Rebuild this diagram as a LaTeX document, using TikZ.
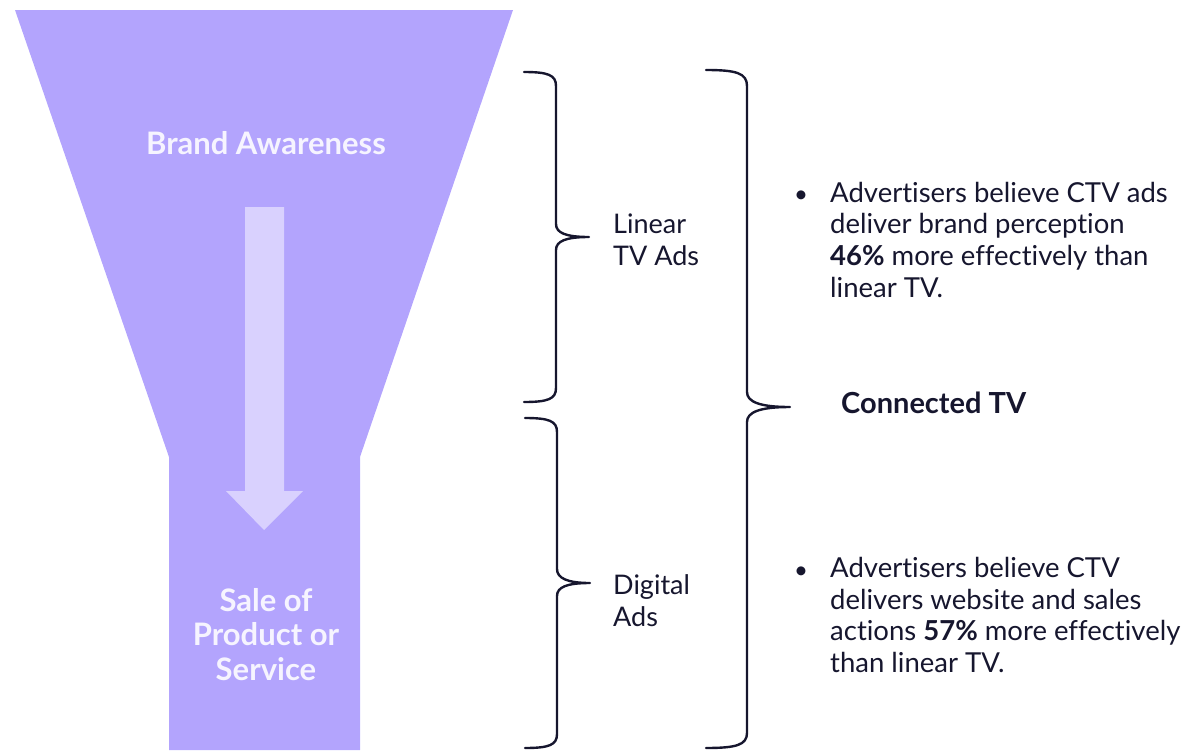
\documentclass[tikz,border=0pt]{standalone}
\usepackage{fontspec}
\setmainfont{Lato}[Ligatures=NoCommon]
\definecolor{funnel}{HTML}{B3A4FD}
\definecolor{arrowc}{HTML}{D9D1FE}
\definecolor{ink}{HTML}{16162E}
\definecolor{wtext}{HTML}{F6F4FF}
\begin{document}
\begin{tikzpicture}[x=1pt,y=-1pt,
  brace/.style={draw=ink,line width=2.4pt,line cap=round,line join=round},
  ftext/.style={text=wtext,font=\fontsize{31}{34.5}\selectfont\bfseries,align=center,inner sep=0},
  lbl/.style={text=ink,font=\fontsize{27}{32}\selectfont,align=left,inner sep=0,anchor=base west},
  body/.style={text=ink,font=\fontsize{27.5}{31.6}\selectfont,align=left,inner sep=0,anchor=base west},
  bullet/.style={text=ink,font=\fontsize{24}{30}\selectfont,anchor=base west,inner sep=0}]
\useasboundingbox (0,0) rectangle (1199,750);
% funnel
\fill[funnel] (15,10) -- (513,10) -- (360,457) -- (360,750) -- (169,750) -- (169,457) -- cycle;
% arrow
\fill[arrowc] (245,207) -- (284,207) -- (284,491) -- (303,491) -- (264,530) -- (226,491) -- (245,491) -- cycle;
\node[ftext,anchor=base] (brand) at (266,154) {Brand Awareness};
\node[ftext,anchor=base] (sale) at (266,680) {Sale of\\Product or\\Service};
% brace 1
\draw[brace] (524,72) .. controls (548,72) and (556,75) .. (556,86) -- (556,224)
  .. controls (556,233) and (566,237) .. (589,237)
  .. controls (566,237) and (556,241) .. (556,250) -- (556,388)
  .. controls (556,399) and (548,402) .. (524,402);
% brace 2
\draw[brace] (525,418) .. controls (549,418) and (557,421) .. (557,432) -- (557,569)
  .. controls (557,578) and (567,583) .. (590,583)
  .. controls (567,583) and (557,587) .. (557,596) -- (557,734)
  .. controls (557,745) and (549,748) .. (525,748);
% big brace
\draw[brace] (706,70) .. controls (736,70) and (747,73) .. (747,86) -- (747,392)
  .. controls (747,402) and (760,407) .. (790,407)
  .. controls (760,407) and (747,412) .. (747,422) -- (747,733)
  .. controls (747,745) and (736,748) .. (706,748);
\node[lbl] (linear) at (613,265) {Linear\\TV Ads};
\node[lbl] (digital) at (613,626) {Digital\\Ads};
\node[text=ink,font=\fontsize{29}{32}\selectfont\bfseries,anchor=base west,inner sep=0] (ctv) at (841,413) {Connected TV};
\node[bullet] (b1) at (794,202) {•};
\node[body] (t1) at (830,297) {Advertisers believe CTV ads\\deliver brand perception\\\textbf{46\%} more effectively than\\linear TV.};
\node[bullet] (b2) at (794,578) {•};
\node[body] (t2) at (830,672.5) {Advertisers believe CTV\\delivers website and sales\\actions \textbf{57\%} more effectively\\than linear TV.};
\end{tikzpicture}
\end{document}
